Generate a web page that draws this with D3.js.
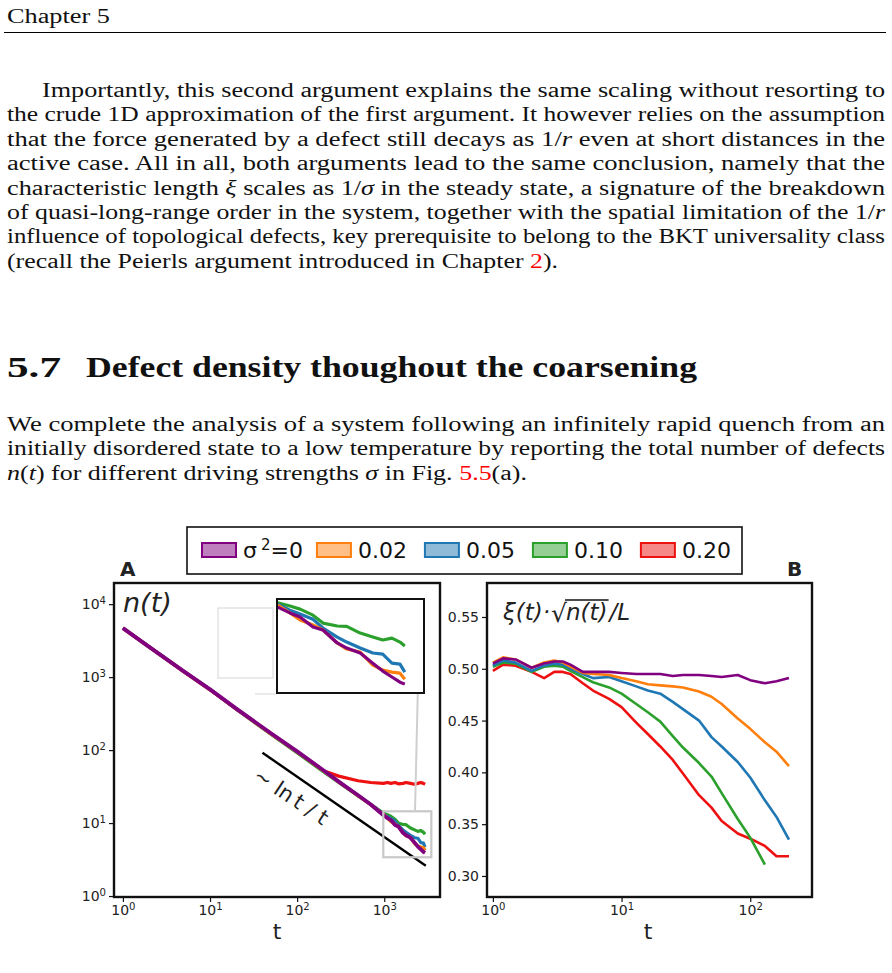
<!DOCTYPE html>
<html>
<head>
<meta charset="utf-8">
<script src="https://cdn.jsdelivr.net/npm/d3@7"></script>
<style>
  body { margin: 0; background: #fff; }
  svg { display: block; }
  .serif { font-family: "Liberation Serif", "Times New Roman", serif; fill: #111; }
  .sans { font-family: "DejaVu Sans", sans-serif; fill: #222; }
</style>
</head>
<body>
<div id="page"></div>
<script>
// page text (*...* = italic math, [...] = red reference)
const headerText = 'Chapter 5';
const para1 = [
  'Importantly, this second argument explains the same scaling without resorting to',
  'the crude 1D approximation of the first argument. It however relies on the assumption',
  'that the force generated by a defect still decays as 1/*r* even at short distances in the',
  'active case. All in all, both arguments lead to the same conclusion, namely that the',
  'characteristic length *ξ* scales as 1/*σ* in the steady state, a signature of the breakdown',
  'of quasi-long-range order in the system, together with the spatial limitation of the 1/*r*',
  'influence of topological defects, key prerequisite to belong to the BKT universality class',
  '(recall the Peierls argument introduced in Chapter [2]).'
];
const headingNum = '5.7';
const headingText = 'Defect density thoughout the coarsening';
const para2 = [
  'We complete the analysis of a system following an infinitely rapid quench from an',
  'initially disordered state to a low temperature by reporting the total number of defects',
  '*n*(*t*) for different driving strengths *σ* in Fig. [5.5](a).'
];

// legend
const legendLabels = ['0', '0.02', '0.05', '0.10', '0.20'];
const seriesColors = ['#800080', '#ff7f0e', '#1f77b4', '#2ca02c', '#ee1111'];

// panel A: number of defects n(t)
const tA = [1, 2, 5, 10, 20, 50, 100, 200, 300, 500, 700,
  980, 1090, 1190, 1330, 1450, 1640, 1780, 2000, 2230, 2430, 2630, 2820, 2940];
const nPurple = [4700, 2600, 1200, 680, 370, 170, 96, 53, 37, 24, 18,
  12.8, 11.7, 11.0, 9.41, 8.98, 7.36, 6.80, 6.30, 5.39, 4.77, 4.35, 4.02, 3.90];
const nOrange = [4650, 2580, 1190, 675, 368, 168, 95, 52, 36.5, 23.8, 17.8,
  13.2, 11.7, 10.5, 9.70, 8.98, 7.36, 6.70, 6.39, 5.23, 4.84, 4.69, 4.62, 4.21];
const nBlue = [4680, 2590, 1195, 678, 369, 169, 95, 52.5, 36.8, 24, 18,
  13.4, 12.2, 11.5, 10.6, 9.26, 8.06, 7.46, 6.80, 6.30, 6.20, 5.39, 5.31, 4.69];
const nGreen = [4700, 2600, 1200, 680, 365, 165, 92, 50.5, 36, 23.5, 18,
  13.7, 13.0, 12.4, 11.3, 10.0, 9.56, 9.5, 8.57, 8.06, 7.70, 7.93, 7.46, 7.02];
const nRed = [4720, 2610, 1190, 670, 362, 166, 93, 52, 44, 38, 36,
  35, 36, 35, 36, 34.5, 35, 36, 35, 34, 35, 36, 35, 34];
const guideT = [40, 3000];
const guideN = [92, 2.6];
const insetT = [975, 3470];
const insetN = [3.4, 14.5];

// panel B: xi(t) sqrt(n(t)) / L
const tB = [1, 1.2, 1.5, 2, 2.5, 3, 3.5, 4, 5, 6, 8, 10, 13, 16, 20, 25, 30, 40, 50, 60, 80, 100, 130, 160, 200];
const xiPurple = [0.505, 0.510, 0.509, 0.501, 0.505, 0.507, 0.507, 0.504, 0.497, 0.497, 0.497, 0.496, 0.495,
  0.495, 0.495, 0.493, 0.494, 0.494, 0.493, 0.492, 0.494, 0.489, 0.486, 0.488, 0.491];
const xiOrange = [0.506, 0.511, 0.509, 0.501, 0.506, 0.508, 0.506, 0.502, 0.496, 0.495, 0.494, 0.491, 0.488,
  0.485, 0.484, 0.483, 0.482, 0.478, 0.473, 0.466, 0.452, 0.442, 0.429, 0.420, 0.406];
const xiBlue = [0.503, 0.508, 0.506, 0.498, 0.503, 0.505, 0.504, 0.500, 0.495, 0.491, 0.492, 0.488, 0.483,
  0.479, 0.476, 0.468, 0.461, 0.450, 0.434, 0.425, 0.410, 0.395, 0.373, 0.357, 0.335];
const xiGreen = [0.502, 0.506, 0.505, 0.497, 0.502, 0.503, 0.502, 0.498, 0.492, 0.487, 0.482, 0.476, 0.466,
  0.458, 0.449, 0.435, 0.424, 0.409, 0.396, 0.380, 0.355, 0.337, 0.311, null, null];
const xiRed = [0.498, 0.504, 0.503, 0.497, 0.491, 0.497, 0.497, 0.495, 0.486, 0.479, 0.471, 0.463, 0.448,
  0.437, 0.425, 0.412, 0.399, 0.378, 0.366, 0.353, 0.341, 0.336, 0.329, 0.319, 0.319];

const seriesA = [nPurple, nOrange, nBlue, nGreen, nRed];
const seriesB = [xiPurple, xiOrange, xiBlue, xiGreen, xiRed];
const drawOrder = [4, 3, 2, 1, 0];

const svg = d3.select('#page').append('svg')
  .attr('width', 892).attr('height', 973);
svg.append('rect').attr('width', 892).attr('height', 973).attr('fill', '#fff');

// ---------- page text ----------
function richLine(str, x, y, len, size, bold) {
  const t = svg.append('text').attr('class', 'serif')
    .attr('x', x).attr('y', y).attr('font-size', size)
    .attr('font-weight', bold ? 'bold' : null);
  str.split(/(\*[^*]+\*|\[[^\]]+\])/).filter(s => s).forEach(p => {
    if (p[0] === '*') t.append('tspan').attr('font-style', 'italic').text(p.slice(1, -1));
    else if (p[0] === '[') t.append('tspan').attr('fill', '#ff0000').text(p.slice(1, -1));
    else t.append('tspan').text(p);
  });
  if (len) t.attr('textLength', len).attr('lengthAdjust', 'spacingAndGlyphs');
  return t;
}

richLine(headerText, 7, 23, 103, 20);
svg.append('line').attr('x1', 4).attr('x2', 886).attr('y1', 32.5).attr('y2', 32.5)
  .attr('stroke', '#000').attr('stroke-width', 1.2);

para1.forEach((s, i) => {
  const x = i === 0 ? 42 : 7;
  const end = i === para1.length - 1 ? 558 : 885;
  richLine(s, x, 97 + 24.4 * i, end - x, 20);
});
richLine(headingNum, 7, 377, 54, 30, true);
richLine(headingText, 86, 377, 611, 30, true);
para2.forEach((s, i) => {
  const end = i === para2.length - 1 ? 527 : 885;
  richLine(s, 7, 431 + 24.4 * i, end - 7, 20);
});

// ---------- legend ----------
const leg = svg.append('g').attr('class', 'sans');
leg.append('rect').attr('x', 187).attr('y', 527).attr('width', 555).attr('height', 47)
  .attr('fill', '#fff').attr('stroke', '#111').attr('stroke-width', 1.6);
let lx = 202;
legendLabels.forEach((lab, i) => {
  leg.append('rect').attr('x', lx).attr('y', 543).attr('width', 34).attr('height', 14)
    .attr('fill', seriesColors[i]).attr('fill-opacity', 0.5)
    .attr('stroke', seriesColors[i]).attr('stroke-width', 2);
  const t = leg.append('text').attr('x', lx + 41).attr('y', 558).attr('font-size', 22).attr('fill', '#111');
  if (i === 0) {
    t.append('tspan').text('σ');
    t.append('tspan').attr('dx', 4).attr('dy', -8).attr('font-size', 15).text('2');
    t.append('tspan').attr('dy', 8).text('=' + lab);
  } else {
    t.text(lab);
  }
  lx += 41 + t.node().getComputedTextLength() + 18;
});

svg.append('text').attr('class', 'sans').attr('x', 120).attr('y', 576)
  .attr('font-size', 20).attr('font-weight', 'bold').attr('fill', '#111').text('A');
svg.append('text').attr('class', 'sans').attr('x', 787).attr('y', 576)
  .attr('font-size', 20).attr('font-weight', 'bold').attr('fill', '#111').text('B');

// ---------- helpers ----------
function powLabels(g) {
  g.selectAll('.tick text').each(function (d) {
    const e = Math.round(Math.log10(d));
    const t = d3.select(this).text(null);
    t.append('tspan').text('10');
    t.append('tspan').attr('dy', '-0.5em').attr('font-size', '0.72em').text(e);
  });
}
function styleAxis(g) {
  g.select('.domain').remove();
  g.selectAll('.tick line').attr('stroke', '#111').attr('stroke-width', 1.2);
  g.selectAll('.tick text').attr('fill', '#222')
    .attr('font-family', '"DejaVu Sans", sans-serif').attr('font-size', 14);
}
function clip(id, x, y, w, h) {
  svg.append('clipPath').attr('id', id).append('rect')
    .attr('x', x).attr('y', y).attr('width', w).attr('height', h);
}

// ---------- panel A ----------
const A = { l: 114, t: 583, r: 440, b: 897 };
const xA = d3.scaleLog().domain([0.79, 4365]).range([A.l, A.r]);
const yA = d3.scaleLog().domain([0.97, 19500]).range([A.b, A.t]);
clip('clipA', A.l, A.t, A.r - A.l, A.b - A.t);

const gxA = svg.append('g').attr('transform', `translate(0,${A.b})`)
  .call(d3.axisBottom(xA).tickValues([1, 10, 100, 1000]).tickSize(5).tickPadding(3));
styleAxis(gxA); powLabels(gxA);
const gyA = svg.append('g').attr('transform', `translate(${A.l},0)`)
  .call(d3.axisLeft(yA).tickValues([1, 10, 100, 1000, 10000]).tickSize(5).tickPadding(3));
styleAxis(gyA); powLabels(gyA);

const plotA = svg.append('g').attr('clip-path', 'url(#clipA)');

// faint leftovers of the inset placement
plotA.append('rect').attr('x', 218).attr('y', 608).attr('width', 55).attr('height', 70)
  .attr('fill', 'none').attr('stroke', '#e4e4e4').attr('stroke-width', 1.5);
plotA.append('line').attr('x1', 255).attr('x2', 277).attr('y1', 694).attr('y2', 694)
  .attr('stroke', '#e4e4e4').attr('stroke-width', 1.5);

const lineA = d3.line().x(d => xA(d.t)).y(d => yA(d.v));
drawOrder.forEach(i => {
  plotA.append('path')
    .datum(tA.map((t, k) => ({ t, v: seriesA[i][k] })))
    .attr('d', lineA).attr('fill', 'none')
    .attr('stroke', seriesColors[i]).attr('stroke-width', i === 0 ? 3.8 : 3.2)
    .attr('stroke-linejoin', 'round');
});

// guide ~ ln t / t
plotA.append('path')
  .datum(guideT.map((t, k) => ({ t, v: guideN[k] })))
  .attr('d', lineA).attr('fill', 'none').attr('stroke', '#000').attr('stroke-width', 2.4);
const g0 = [xA(guideT[0]), yA(guideN[0])], g1 = [xA(guideT[1]), yA(guideN[1])];
const ang = Math.atan2(g1[1] - g0[1], g1[0] - g0[0]) * 180 / Math.PI;
svg.append('text').attr('class', 'sans')
  .attr('transform', `translate(252,779) rotate(${ang - 1})`)
  .attr('font-size', 21).attr('fill', '#111').text('∼ ln\u2009t / t');

// zoom window and its connector
plotA.append('rect')
  .attr('x', xA(insetT[0])).attr('y', yA(insetN[1]))
  .attr('width', xA(insetT[1]) - xA(insetT[0])).attr('height', yA(insetN[0]) - yA(insetN[1]))
  .attr('fill', 'none').attr('stroke', '#c8c8c8').attr('stroke-width', 2.2);
plotA.append('line').attr('x1', 420).attr('y1', 598).attr('x2', 415).attr('y2', yA(insetN[1]))
  .attr('stroke', '#cfcfcf').attr('stroke-width', 2);

svg.append('rect').attr('x', A.l).attr('y', A.t).attr('width', A.r - A.l).attr('height', A.b - A.t)
  .attr('fill', 'none').attr('stroke', '#111').attr('stroke-width', 2.4);

svg.append('text').attr('class', 'sans').attr('x', 123).attr('y', 612)
  .attr('font-size', 27).attr('font-style', 'italic').attr('fill', '#111').text('n(t)');
svg.append('text').attr('class', 'sans').attr('x', (A.l + A.r) / 2).attr('y', 939)
  .attr('text-anchor', 'middle').attr('font-size', 22).attr('fill', '#222').text('t');

// inset
const I = { l: 277, t: 599, r: 424, b: 693 };
const xI = d3.scaleLog().domain(insetT).range([I.l, I.r]);
const yI = d3.scaleLog().domain(insetN).range([I.b, I.t]);
clip('clipI', I.l, I.t, I.r - I.l, I.b - I.t);
svg.append('rect').attr('x', I.l).attr('y', I.t).attr('width', I.r - I.l).attr('height', I.b - I.t)
  .attr('fill', '#fff');
const plotI = svg.append('g').attr('clip-path', 'url(#clipI)');
const lineI = d3.line().x(d => xI(d.t)).y(d => yI(d.v));
drawOrder.forEach(i => {
  plotI.append('path')
    .datum(tA.map((t, k) => ({ t, v: seriesA[i][k] })).filter(d => d.t >= insetT[0]))
    .attr('d', lineI).attr('fill', 'none')
    .attr('stroke', seriesColors[i]).attr('stroke-width', 3.2)
    .attr('stroke-linejoin', 'round');
});
svg.append('rect').attr('x', I.l).attr('y', I.t).attr('width', I.r - I.l).attr('height', I.b - I.t)
  .attr('fill', 'none').attr('stroke', '#111').attr('stroke-width', 2);

// ---------- panel B ----------
const B = { l: 487, t: 583, r: 812, b: 897 };
const xB = d3.scaleLog().domain([0.9, 302]).range([B.l, B.r]);
const yB = d3.scaleLinear().domain([0.2797, 0.5828]).range([B.b, B.t]);
clip('clipB', B.l, B.t, B.r - B.l, B.b - B.t);

const gxB = svg.append('g').attr('transform', `translate(0,${B.b})`)
  .call(d3.axisBottom(xB).tickValues([1, 10, 100]).tickSize(5).tickPadding(3));
styleAxis(gxB); powLabels(gxB);
const gyB = svg.append('g').attr('transform', `translate(${B.l},0)`)
  .call(d3.axisLeft(yB).tickValues([0.30, 0.35, 0.40, 0.45, 0.50, 0.55])
    .tickFormat(d3.format('.2f')).tickSize(5).tickPadding(3));
styleAxis(gyB);

const plotB = svg.append('g').attr('clip-path', 'url(#clipB)');
const lineB = d3.line().defined(d => d.v != null).x(d => xB(d.t)).y(d => yB(d.v));
drawOrder.forEach(i => {
  plotB.append('path')
    .datum(tB.map((t, k) => ({ t, v: seriesB[i][k] })))
    .attr('d', lineB).attr('fill', 'none')
    .attr('stroke', seriesColors[i]).attr('stroke-width', 2.6)
    .attr('stroke-linejoin', 'round');
});
svg.append('rect').attr('x', B.l).attr('y', B.t).attr('width', B.r - B.l).attr('height', B.b - B.t)
  .attr('fill', 'none').attr('stroke', '#111').attr('stroke-width', 2.4);

// label xi(t)·sqrt(n(t))/L
const lab = svg.append('g').attr('class', 'sans').attr('font-size', 23).attr('fill', '#111');
let px = 503;
const p1 = lab.append('text').attr('x', px).attr('y', 620).attr('font-style', 'italic').text('ξ(t)·');
px += p1.node().getComputedTextLength() + 1;
const p2 = lab.append('text').attr('x', px).attr('y', 622).attr('font-size', 25).text('√');
px += p2.node().getComputedTextLength() - 1;
const p3 = lab.append('text').attr('x', px).attr('y', 620).attr('font-style', 'italic').text('n(t)');
const w3 = p3.node().getComputedTextLength();
lab.append('line').attr('x1', px - 1).attr('x2', px + w3 + 1).attr('y1', 600).attr('y2', 600)
  .attr('stroke', '#111').attr('stroke-width', 1.3);
px += w3 + 2;
lab.append('text').attr('x', px).attr('y', 620).attr('font-style', 'italic').text('/L');

svg.append('text').attr('class', 'sans').attr('x', 648).attr('y', 939)
  .attr('text-anchor', 'middle').attr('font-size', 22).attr('fill', '#222').text('t');
</script>
</body>
</html>
